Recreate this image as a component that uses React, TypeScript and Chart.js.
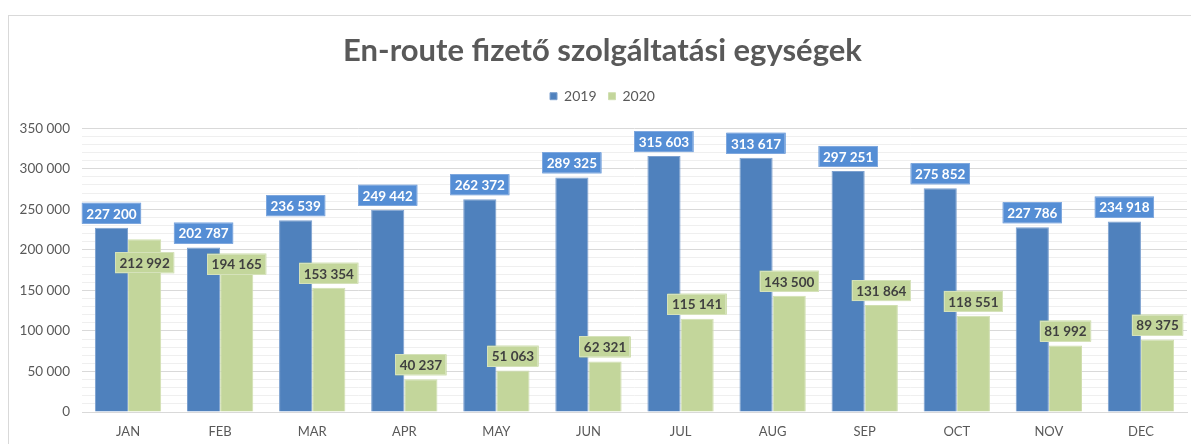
import React, { useEffect, useRef } from "react";
import { Chart, registerables } from "chart.js";

Chart.register(...registerables);

const months = ["JAN", "FEB", "MAR", "APR", "MAY", "JUN", "JUL", "AUG", "SEP", "OCT", "NOV", "DEC"];
const units2019 = [227200, 202787, 236539, 249442, 262372, 289325, 315603, 313617, 297251, 275852, 227786, 234918];
const units2020 = [212992, 194165, 153354, 40237, 51063, 62321, 115141, 143500, 131864, 118551, 81992, 89375];
const seriesLabels = ["2019", "2020"];
const chartTitle = "En-route fizető szolgáltatási egységek";

// manual label nudges for 2020 labels that were dragged below the 2019 labels (offset of box top from bar top)
const label2020Nudge: Record<number, number> = { 0: 13, 1: -1 };

const FONT = "Lato, 'Open Sans', sans-serif";

const fmt = (v: number) => String(Math.round(v)).replace(/\B(?=(\d{3})+(?!\d))/g, " ");

const labelStyles = [
  { bg: "#558ED5", border: "#7FA8DE", color: "#FFFFFF" },
  { bg: "#C3D69B", border: "#D5E2BA", color: "#404040" },
];

const dataLabelPlugin = {
  id: "dataLabels",
  afterDatasetsDraw(chart: any) {
    const ctx = chart.ctx;
    ctx.save();
    ctx.font = `bold 13.5px ${FONT}`;
    ctx.textAlign = "center";
    ctx.textBaseline = "middle";
    const h = 21;
    const blueBoxes: any[] = [];
    chart.data.datasets.forEach((ds: any, di: number) => {
      const meta = chart.getDatasetMeta(di);
      meta.data.forEach((el: any, i: number) => {
        const text = fmt(ds.data[i]);
        const w = ctx.measureText(text).width + 9;
        let top = el.y - 4 - h;
        const left = el.x - w / 2;
        if (di === 0) {
          blueBoxes[i] = { left, top, right: left + w, bottom: top + h };
        } else {
          const b = blueBoxes[i];
          if (b && left < b.right && left + w > b.left && top < b.bottom && top + h > b.top) {
            top = el.y + (label2020Nudge[i] ?? 1);
          }
        }
        const st = labelStyles[di];
        ctx.fillStyle = st.bg;
        ctx.fillRect(left, top, w, h);
        ctx.strokeStyle = st.border;
        ctx.lineWidth = 1;
        ctx.strokeRect(Math.round(left) + 0.5, Math.round(top) + 0.5, Math.round(w) - 1, h - 1);
        ctx.fillStyle = st.color;
        ctx.fillText(text, el.x, top + h / 2 + 1);
      });
    });
    ctx.restore();
  },
};

const legendSpacer = {
  id: "legendSpacer",
  beforeInit(chart: any) {
    const lg = chart.legend;
    if (!lg) return;
    const orig = lg.fit;
    lg.fit = function () {
      orig.call(this);
      this.height += 15;
    };
  },
};

export default function App() {
  const ref = useRef<HTMLCanvasElement | null>(null);
  useEffect(() => {
    if (!ref.current) return;
    const chart = new Chart(ref.current, {
      type: "bar",
      data: {
        labels: months,
        datasets: [
          {
            label: seriesLabels[0],
            data: units2019,
            backgroundColor: "#4F81BD",
            borderColor: "#7CA0CF",
            borderWidth: 1,
            categoryPercentage: 0.72,
            barPercentage: 1.0,
          },
          {
            label: seriesLabels[1],
            data: units2020,
            backgroundColor: "#C3D69B",
            borderColor: "#D0DFB0",
            borderWidth: 1,
            categoryPercentage: 0.72,
            barPercentage: 1.0,
          },
        ],
      },
      options: {
        responsive: false,
        animation: false,
        devicePixelRatio: 1,
        layout: { padding: { left: 9, right: 4, top: 0, bottom: 0 } },
        plugins: {
          title: {
            display: true,
            text: chartTitle,
            color: "#595959",
            font: { family: FONT, size: 31, weight: "bold" },
            padding: { top: 16, bottom: 8 },
          },
          legend: {
            display: true,
            position: "top",
            labels: {
              color: "#595959",
              font: { family: FONT, size: 14 },
              boxWidth: 7,
              boxHeight: 7,
              padding: 12,
            },
          },
          tooltip: { enabled: false },
        },
        scales: {
          x: {
            grid: { display: false, drawTicks: false },
            border: { display: true, color: "#D9D9D9" },
            ticks: { color: "#595959", font: { family: FONT, size: 13 }, padding: 12 },
            afterFit(scale: any) {
              scale.height = 32;
            },
          },
          y: {
            min: 0,
            max: 350000,
            grid: {
              drawTicks: false,
              color: (c: any) => (c.tick && c.tick.value % 50000 === 0 ? "#D9D9D9" : "#EFEFEF"),
            },
            border: { display: false },
            ticks: {
              stepSize: 10000,
              autoSkip: false,
              maxTicksLimit: 100,
              color: "#595959",
              font: { family: FONT, size: 13.5 },
              padding: 12,
              callback: (v: any) => (Number(v) % 50000 === 0 ? fmt(Number(v)) : ""),
            },
            afterFit(scale: any) {
              scale.width = 64;
            },
          },
        },
      },
      plugins: [dataLabelPlugin, legendSpacer],
    } as any);
    return () => chart.destroy();
  }, []);

  return (
    <div
      style={{
        position: "absolute",
        left: 8,
        top: 15,
        width: 1190,
        height: 429,
        borderTop: "1px solid #D9D9D9",
        borderLeft: "1px solid #D9D9D9",
        background: "#FFFFFF",
        overflow: "hidden",
      }}
    >
      <canvas ref={ref} width={1182} height={428} style={{ display: "block" }} />
    </div>
  );
}
